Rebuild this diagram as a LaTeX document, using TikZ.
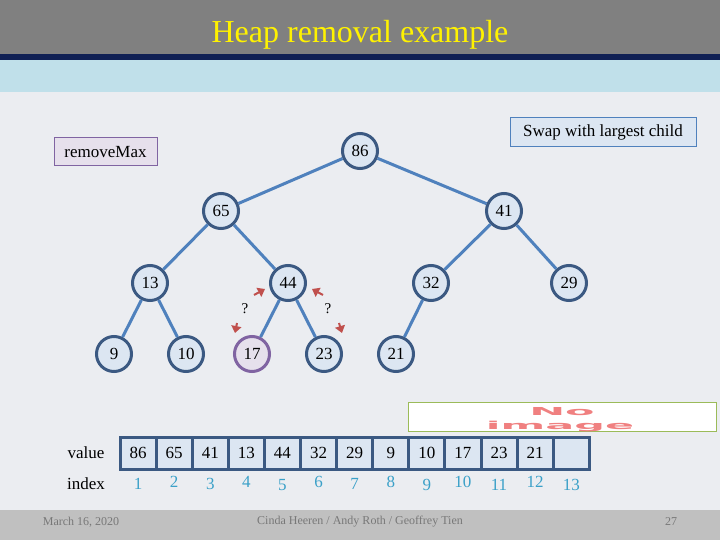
\documentclass[tikz,border=0pt]{standalone}
\usepackage{fontspec}
\setmainfont{Liberation Serif}
\newfontfamily\noimgfont{DejaVu Sans}
\usetikzlibrary{arrows.meta}
\definecolor{bgmain}{RGB}{235,237,241}
\definecolor{titlegray}{RGB}{128,128,128}
\definecolor{navy}{RGB}{16,32,84}
\definecolor{band}{RGB}{192,224,234}
\definecolor{footgray}{RGB}{192,192,192}
\definecolor{foottext}{RGB}{120,120,120}
\definecolor{edgeblue}{RGB}{79,129,189}
\definecolor{nodeborder}{RGB}{59,89,130}
\definecolor{nodefill}{RGB}{220,230,242}
\definecolor{purpborder}{RGB}{128,100,162}
\definecolor{purpfill}{RGB}{230,224,236}
\definecolor{arrred}{RGB}{192,80,77}
\definecolor{idxblue}{RGB}{58,160,200}
\definecolor{olive}{RGB}{155,187,89}
\definecolor{pinktext}{RGB}{240,128,128}
\tikzset{
  heapnode/.style={circle,draw=nodeborder,fill=nodefill,line width=3pt,minimum size=35pt,inner sep=0pt,font=\fontsize{17}{20}\selectfont},
  hilite/.style={heapnode,draw=purpborder,fill=purpfill},
  heapedge/.style={draw=edgeblue,line width=3pt},
  cellbox/.style={rectangle,draw=nodeborder,fill=nodefill,line width=3pt,minimum width=36.1pt,minimum height=32pt,inner sep=0pt,font=\fontsize{17}{20}\selectfont},
  idxlabel/.style={text=idxblue,font=\fontsize{17}{20}\selectfont,inner sep=0pt},
  rowlabel/.style={font=\fontsize{17}{20}\selectfont,inner sep=0pt},
  footlabel/.style={text=foottext,font=\fontsize{12}{14}\selectfont,inner sep=0pt},
  qarrow/.style={draw=arrred,line width=2pt,-{Triangle[width=10pt,length=7pt]}},
  qmark/.style={font=\fontsize{15}{18}\selectfont,inner sep=0pt}
}
\begin{document}
\begin{tikzpicture}[x=1pt,y=-1pt]
\useasboundingbox (0,0) rectangle (720,540);
% background bands
\fill[bgmain] (0,0) rectangle (720,540);
\fill[titlegray] (0,0) rectangle (720,54);
\fill[navy] (0,54) rectangle (720,60);
\fill[band] (0,60) rectangle (720,92);
\fill[footgray] (0,510) rectangle (720,540);
\node[text=yellow,font=\fontsize{32}{36}\selectfont,inner sep=0pt] (title) at (360,35) {Heap removal example};

% info boxes
\node[draw=purpborder,fill=purpfill,line width=1pt,minimum width=103pt,minimum height=28pt,inner sep=2pt,font=\fontsize{17}{20}\selectfont] (rm) at (105.5,152) {removeMax};
\node[draw=edgeblue,fill=nodefill,line width=1pt,minimum width=186pt,minimum height=29pt,inner sep=2pt,font=\fontsize{17}{20}\selectfont] (swap) at (603,132.5) {Swap with largest child};

% heap nodes
\node[heapnode] (n86) at (360,151) {86};
\node[heapnode] (n65) at (221,211) {65};
\node[heapnode] (n41) at (504,211) {41};
\node[heapnode] (n13) at (150,283) {13};
\node[heapnode] (n44) at (288,283) {44};
\node[heapnode] (n32) at (431,283) {32};
\node[heapnode] (n29) at (569,283) {29};
\node[heapnode] (n9)  at (114,354) {9};
\node[heapnode] (n10) at (186,354) {10};
\node[hilite]   (n17) at (252,354) {17};
\node[heapnode] (n23) at (324,354) {23};
\node[heapnode] (n21) at (396,354) {21};

% edges
\draw[heapedge] (n86) -- (n65);
\draw[heapedge] (n86) -- (n41);
\draw[heapedge] (n65) -- (n13);
\draw[heapedge] (n65) -- (n44);
\draw[heapedge] (n41) -- (n32);
\draw[heapedge] (n41) -- (n29);
\draw[heapedge] (n13) -- (n9);
\draw[heapedge] (n13) -- (n10);
\draw[heapedge] (n44) -- (n17);
\draw[heapedge] (n44) -- (n23);
\draw[heapedge] (n32) -- (n21);

% question arrows
\coordinate (la1) at (254,295);
\coordinate (la2) at (265,289);
\coordinate (lb1) at (237,323);
\coordinate (lb2) at (235,333);
\coordinate (ra1) at (323,295);
\coordinate (ra2) at (312,289);
\coordinate (rb1) at (339,323);
\coordinate (rb2) at (342,333);
\draw[qarrow] (la1) -- (la2);
\draw[qarrow] (lb1) -- (lb2);
\draw[qarrow] (ra1) -- (ra2);
\draw[qarrow] (rb1) -- (rb2);
\node[qmark] (q1) at (245,309) {?};
\node[qmark] (q2) at (328,309) {?};

% no image placeholder
\node[draw=olive,fill=white,line width=1pt,minimum width=308pt,minimum height=29pt] (noimg) at (562,416.5) {};
\node[text=pinktext,inner sep=0pt] (noA) at (562,412) {\scalebox{3.9}[1.0]{\noimgfont\bfseries\fontsize{11}{11}\selectfont No}};
\node[text=pinktext,inner sep=0pt] (noB) at (560,426.5) {\scalebox{3.9}[1.0]{\noimgfont\bfseries\fontsize{11}{11}\selectfont image}};

% array
\node[rowlabel] (vlab) at (86,453) {value};
\node[rowlabel] (ilab) at (86,484) {index};
\foreach \v [count=\i] in {86,65,41,13,44,32,29,9,10,17,23,21,{}} {
  \node[cellbox] (c\i) at ({120+36.1*(\i-0.5)},453) {\v};
}
\foreach \i/\yy in {1/484,2/482,3/484,4/482,5/485,6/482,7/484,8/482,9/485,10/482,11/485,12/482,13/485} {
  \node[idxlabel] (i\i) at ({120+36.1*(\i-0.5)},\yy) {\i};
}

% footer
\node[footlabel] (fdate) at (81,522) {March 16, 2020};
\node[footlabel] (fauth) at (360,522) {Cinda Heeren / Andy Roth / Geoffrey Tien};
\node[footlabel] (fpage) at (671,522) {27};
\end{tikzpicture}
\end{document}
